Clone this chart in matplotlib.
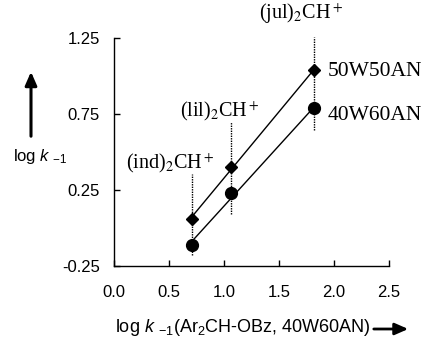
import numpy as np
import matplotlib
matplotlib.use("Agg")
import matplotlib.pyplot as plt

plt.rcParams["font.family"] = "Liberation Sans"
plt.rcParams["mathtext.fontset"] = "custom"
plt.rcParams["mathtext.rm"] = "Liberation Sans"
plt.rcParams["mathtext.it"] = "Liberation Sans:italic"

# data
x_vals = [0.706, 1.064, 1.821]
y_50w50an = [0.059, 0.403, 1.039]
y_40w60an = [-0.112, 0.228, 0.787]
cation_labels = ["(ind)$_2$CH$^+$", "(lil)$_2$CH$^+$", "(jul)$_2$CH$^+$"]
drop_top = [0.355, 0.697, 1.259]
drop_bottom = [-0.18, 0.092, 0.645]
series_names = ["50W50AN", "40W60AN"]
x_ticks = [0.0, 0.5, 1.0, 1.5, 2.0, 2.5]
y_ticks = [-0.25, 0.25, 0.75, 1.25]

W, H = 427, 337
fig = plt.figure(figsize=(W / 100, H / 100), dpi=100)
ax = fig.add_axes([114 / W, 1 - 266 / H, (389 - 114) / W, (266 - 38) / H])

# dotted drop lines
for x, lo, hi in zip(x_vals, drop_bottom, drop_top):
    ax.plot([x, x], [lo, hi], ls=(0, (1.0, 0.8)), color="black", lw=1.0,
            clip_on=False, zorder=1)

# fit lines
xs = np.array(x_vals)
for ys in (y_50w50an, y_40w60an):
    p = np.polyfit(xs, ys, 1)
    ax.plot(xs, np.polyval(p, xs), color="black", lw=1.0, zorder=2)

ax.plot(x_vals, y_50w50an, "D", color="black", ms=6.5, zorder=3, clip_on=False)
ax.plot(x_vals, y_40w60an, "o", color="black", ms=8.5, zorder=3, clip_on=False)

ax.set_xlim(0, 2.5)
ax.set_ylim(-0.25, 1.25)
ax.set_xticks(x_ticks)
ax.set_xticklabels([f"{t:.1f}" for t in x_ticks])
ax.set_yticks(y_ticks)
ax.set_yticklabels([f"{t:.2f}" for t in y_ticks])
ax.spines["top"].set_visible(False)
ax.spines["right"].set_visible(False)
for s in ("left", "bottom"):
    ax.spines[s].set_linewidth(1.0)
ax.tick_params(axis="both", direction="in", length=4, width=1.0, labelsize=12)
ax.tick_params(axis="x", pad=14)
ax.tick_params(axis="y", pad=10)

serif = dict(family="Liberation Serif", fontsize=14.5, math_fontfamily="stix",
             color="black")
# cation labels
label_pos = [(170, 163), (220, 111), (301, 14)]
for (px, py), lab in zip(label_pos, cation_labels):
    fig.text(px / W, 1 - py / H, lab, ha="center", va="center", **serif)

serif["fontsize"] = 15.5
fig.text(328 / W, 1 - 71 / H, series_names[0], ha="left", va="center", **serif)
fig.text(328 / W, 1 - 116 / H, series_names[1], ha="left", va="center", **serif)

# axis labels with arrows
fig.text(115 / W, 1 - 328 / H, r"log $\it{k}$ $_{-1}$(Ar$_2$CH-OBz, 40W60AN)",
         ha="left", va="center", fontsize=13)
fig.add_artist(matplotlib.patches.FancyArrowPatch(
    (371 / W, 1 - 329 / H), (411 / W, 1 - 329 / H), transform=fig.transFigure,
    arrowstyle="-|>,head_length=8,head_width=3.5", mutation_scale=1, lw=2.0,
    color="black"))

fig.text(40 / W, 1 - 157 / H, r"log $\it{k}$ $_{-1}$", ha="center", va="center",
         fontsize=12)
fig.add_artist(matplotlib.patches.FancyArrowPatch(
    (31 / W, 1 - 139 / H), (31 / W, 1 - 69 / H), transform=fig.transFigure,
    arrowstyle="-|>,head_length=8,head_width=3.5", mutation_scale=1, lw=2.2,
    color="black"))

fig.savefig("out.png", dpi=100)
